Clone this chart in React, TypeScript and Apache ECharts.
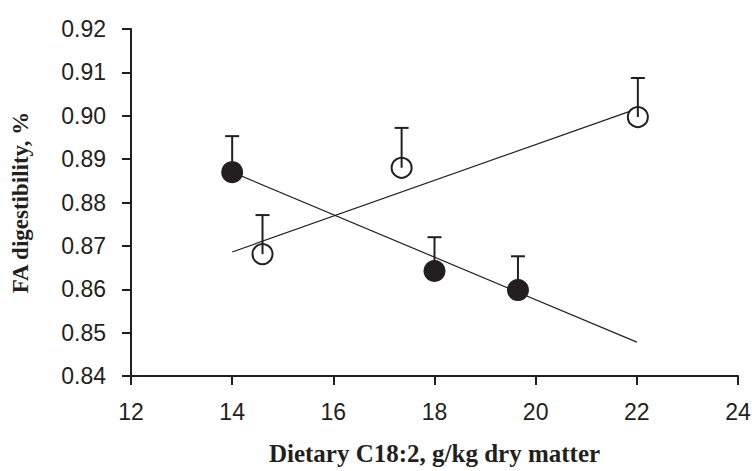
import React, { useEffect, useRef } from "react";
import * as echarts from "echarts";

const xTicks = [12, 14, 16, 18, 20, 22, 24];
const yTickLabels = ["0.84", "0.85", "0.86", "0.87", "0.88", "0.89", "0.90", "0.91", "0.92"];

// Filled circles: [x, mean, upper error]
const filledX = [14, 18, 19.65];
const filledY = [0.887, 0.8642, 0.8598];
const filledUpper = [0.8953, 0.872, 0.8676];

// Open circles
const openX = [14.6, 17.35, 22.02];
const openY = [0.8681, 0.888, 0.8997];
const openUpper = [0.8771, 0.8972, 0.9087];

// Regression lines
const fitFilledX = [14, 22];
const fitFilledY = [0.887, 0.8478];
const fitOpenX = [14, 22];
const fitOpenY = [0.8686, 0.9016];

const INK = "#231f20";

export default function App() {
  const ref = useRef<HTMLDivElement>(null);
  useEffect(() => {
    if (!ref.current) return;
    const chart = echarts.init(ref.current, undefined, { renderer: "svg" });
    const filled = filledX.map((x, i) => [x, filledY[i]]);
    const open = openX.map((x, i) => [x, openY[i]]);
    const errs = [
      ...filledX.map((x, i) => [x, filledY[i], filledUpper[i]]),
      ...openX.map((x, i) => [x, openY[i], openUpper[i]]),
    ];
    chart.setOption({
      animation: false,
      backgroundColor: "#ffffff",
      grid: {
        left: 131,
        right: 14,
        top: 29,
        bottom: 95,
        containLabel: false,
        outerBoundsMode: "none",
      },
      xAxis: {
        type: "value",
        min: xTicks[0],
        max: xTicks[xTicks.length - 1],
        interval: 2,
        name: "Dietary C18:2, g/kg dry matter",
        nameLocation: "middle",
        nameGap: 65,
        nameTextStyle: {
          fontFamily: "Liberation Serif",
          fontWeight: "bold",
          fontSize: 25,
          color: INK,
        },
        axisLine: { show: true, lineStyle: { color: INK, width: 2 } },
        axisTick: { show: true, length: 9, lineStyle: { color: INK, width: 2 } },
        axisLabel: {
          margin: 24,
          fontFamily: "Liberation Sans",
          fontSize: 23,
          color: INK,
        },
        splitLine: { show: false },
      },
      yAxis: {
        type: "value",
        min: 0.84,
        max: 0.92,
        interval: 0.01,
        name: "FA digestibility, %",
        nameLocation: "middle",
        nameGap: 99,
        nameRotate: 90,
        nameTextStyle: {
          fontFamily: "Liberation Serif",
          fontWeight: "bold",
          fontSize: 23,
          color: INK,
        },
        axisLine: { show: true, lineStyle: { color: INK, width: 2 } },
        axisTick: { show: true, length: 9, lineStyle: { color: INK, width: 2 } },
        axisLabel: {
          margin: 25,
          fontFamily: "Liberation Sans",
          fontSize: 23,
          color: INK,
          formatter: (v: number) => {
            const idx = Math.round((v - 0.84) / 0.01);
            return yTickLabels[idx] ?? v.toFixed(2);
          },
        },
        splitLine: { show: false },
      },
      series: [
        {
          type: "line",
          data: fitFilledX.map((x, i) => [x, fitFilledY[i]]),
          symbol: "none",
          lineStyle: { color: INK, width: 1.2 },
          z: 1,
        },
        {
          type: "line",
          data: fitOpenX.map((x, i) => [x, fitOpenY[i]]),
          symbol: "none",
          lineStyle: { color: INK, width: 1.2 },
          z: 1,
        },
        {
          type: "scatter",
          data: filled,
          symbol: "circle",
          symbolSize: 22,
          itemStyle: { color: INK, opacity: 1 },
          z: 3,
        },
        {
          type: "scatter",
          data: open,
          symbol: "circle",
          symbolSize: 20,
          itemStyle: { color: "#ffffff", borderColor: INK, borderWidth: 2, opacity: 1 },
          z: 3,
        },
        {
          type: "custom",
          data: errs,
          z: 4,
          renderItem: (params: any, api: any) => {
            const c = api.coord([api.value(0), api.value(1)]);
            const u = api.coord([api.value(0), api.value(2)]);
            const half = 7;
            return {
              type: "group",
              children: [
                {
                  type: "line",
                  shape: { x1: c[0], y1: c[1], x2: u[0], y2: u[1] },
                  style: { stroke: INK, lineWidth: 2 },
                },
                {
                  type: "line",
                  shape: { x1: u[0] - half, y1: u[1], x2: u[0] + half, y2: u[1] },
                  style: { stroke: INK, lineWidth: 2 },
                },
              ],
            };
          },
        },
      ],
    });
    return () => chart.dispose();
  }, []);
  return <div ref={ref} style={{ width: 752, height: 471, position: "absolute", left: 0, top: 0 }} />;
}
